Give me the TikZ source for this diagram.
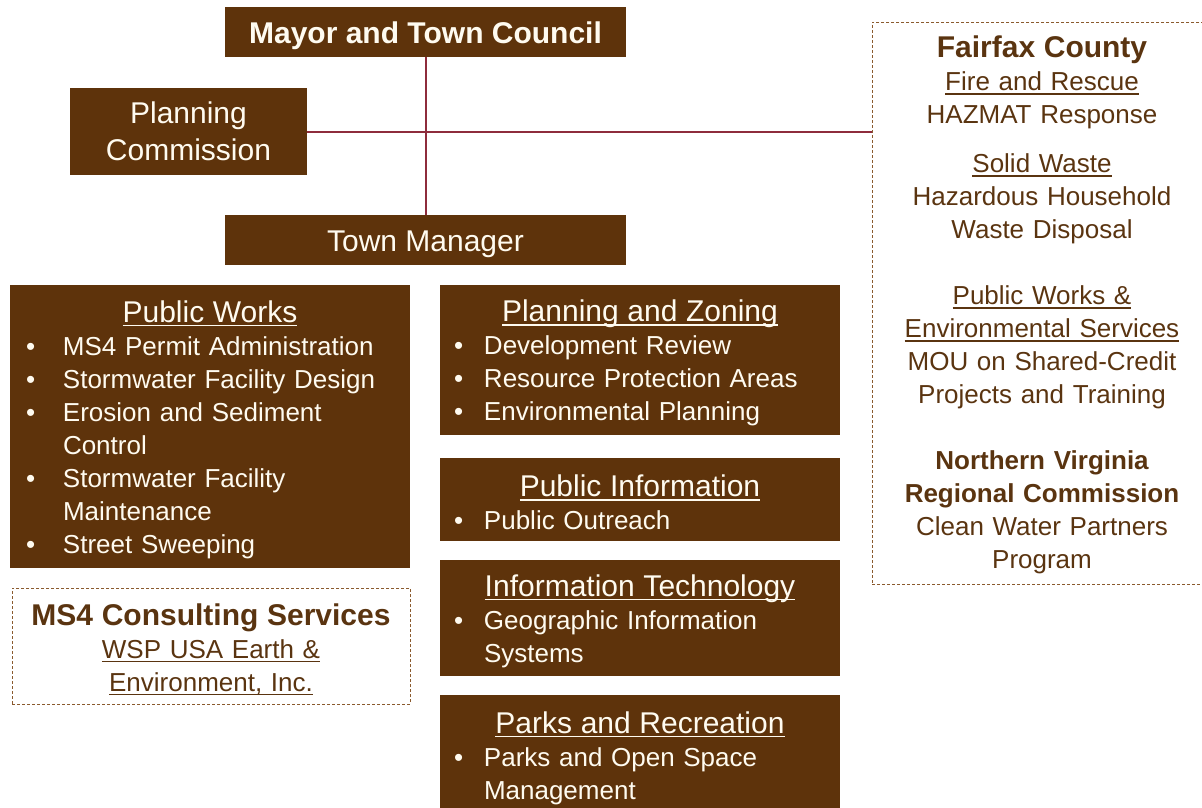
\documentclass[tikz,border=0pt]{standalone}
\usepackage{fontspec}
\setmainfont{Liberation Sans}
\definecolor{unitbrown}{HTML}{5E330B}
\definecolor{unittext}{HTML}{FFFBF0}
\definecolor{partnertext}{HTML}{5A3410}
\definecolor{partnerline}{HTML}{8A5A2E}
\definecolor{linkred}{HTML}{8E2C3C}
\newlength{\ulnwidth}
\newlength{\unithang}
\setlength{\unithang}{37pt}
\newcommand{\uln}[1]{\settowidth{\ulnwidth}{#1}\leavevmode\rlap{\rule[-4pt]{\ulnwidth}{1.5pt}}#1}
\newcommand{\unithead}[1]{{\fontsize{30}{35}\selectfont\centering\rule{0pt}{28pt}\uln{#1}\par}}
\newcommand{\unititem}[1]{\par\hangindent=\unithang\hangafter=1\noindent\makebox[\unithang][l]{\textbullet}#1\par}
\tikzset{
unit/.style={ % Sets the properties for each department box
fill=unitbrown,
text=unittext,
anchor=north west,
inner sep=0pt, inner xsep=16pt, outer sep=0pt,
font=\fontsize{26}{33}\selectfont,
execute at begin node=\raggedright},
item hang/.code={\setlength{\unithang}{#1}}, % Indent of the text after a bullet
title/.style={ % Boxes of the governing bodies
fill=unitbrown,
text=unittext,
anchor=north west,
align=center,
inner sep=0pt, outer sep=0pt,
font=\fontsize{30}{37}\selectfont},
oneline/.style={text height=23pt, text depth=0pt},
partner/.style={ % Outside partners, dashed frame
draw=partnerline,
dash pattern=on 3pt off 2pt,
line width=0.8pt,
text=partnertext,
anchor=north west,
align=center,
inner sep=0pt, inner xsep=14pt, outer sep=0pt,
font=\fontsize{26}{33}\selectfont},
link/.style={ % Reporting lines
draw=linkred,
line width=2pt}}

\begin{document}
\begin{tikzpicture}[x=1pt, y=-1pt]
	\useasboundingbox (0,0) rectangle (1202,808);
	\node[title, oneline, minimum width=401, minimum height=50] (mayor) at (225,7) {\bfseries Mayor and Town Council};
	\node[title, minimum width=237, minimum height=87] (planning) at (70,88) {Planning\\Commission};
	\node[title, oneline, minimum width=401, minimum height=50] (manager) at (225,215) {Town Manager};
	\node[partner, minimum width=340, minimum height=562, text width=312] (fairfax) at (872,22) {
		{\bfseries\fontsize{30}{34}\selectfont\rule{0pt}{26pt}Fairfax County}\\
		\uln{Fire and Rescue}\\
		HAZMAT Response\\[16pt]
		\uln{Solid Waste}\\
		Hazardous Household\\
		Waste Disposal\\[33pt]
		\uln{Public Works \&}\\
		\uln{Environmental Services}\\
		MOU on Shared-Credit\\
		Projects and Training\\[33pt]
		{\bfseries Northern Virginia}\\
		{\bfseries Regional Commission}\\
		Clean Water Partners\\
		Program};
	\node[unit, minimum width=400, minimum height=283, text width=368] (publicworks) at (10,285) {
		\unithead{Public Works}
		\unititem{MS4 Permit Administration}
		\unititem{Stormwater Facility Design}
		\unititem{Erosion and Sediment\newline Control}
		\unititem{Stormwater Facility\newline Maintenance}
		\unititem{Street Sweeping}};
	\node[partner, minimum width=398, minimum height=116, text width=370] (consult) at (12,588) {
		{\bfseries\fontsize{30}{34}\selectfont\rule{0pt}{28pt}MS4 Consulting Services}\\
		\uln{WSP USA Earth \&}\\
		\uln{Environment, Inc.}};
	\node[unit, item hang=30pt, inner xsep=14pt, minimum width=400, minimum height=150, text width=372] (zoning) at (440,285) {
		\unithead{Planning and Zoning}
		\unititem{Development Review}
		\unititem{Resource Protection Areas}
		\unititem{Environmental Planning}};
	\node[unit, item hang=30pt, inner xsep=14pt, minimum width=400, minimum height=83, text width=372] (pubinfo) at (440,458) {
		\unithead{Public Information}
		\unititem{Public Outreach}};
	\node[unit, item hang=30pt, inner xsep=14pt, minimum width=400, minimum height=116, text width=372] (infotech) at (440,560) {
		\unithead{Information Technology}
		\unititem{Geographic Information\newline Systems}};
	\node[unit, item hang=30pt, inner xsep=14pt, minimum width=400, minimum height=120, text width=372] (parks) at (440,695) {
		\unithead{Parks and Recreation}
		\unititem{Parks and Open Space\newline Management}};
	\draw[link] (mayor.south) -- (manager.north);
	\draw[link] (planning.east) -- (planning.east -| fairfax.west);
\end{tikzpicture}
\end{document}
